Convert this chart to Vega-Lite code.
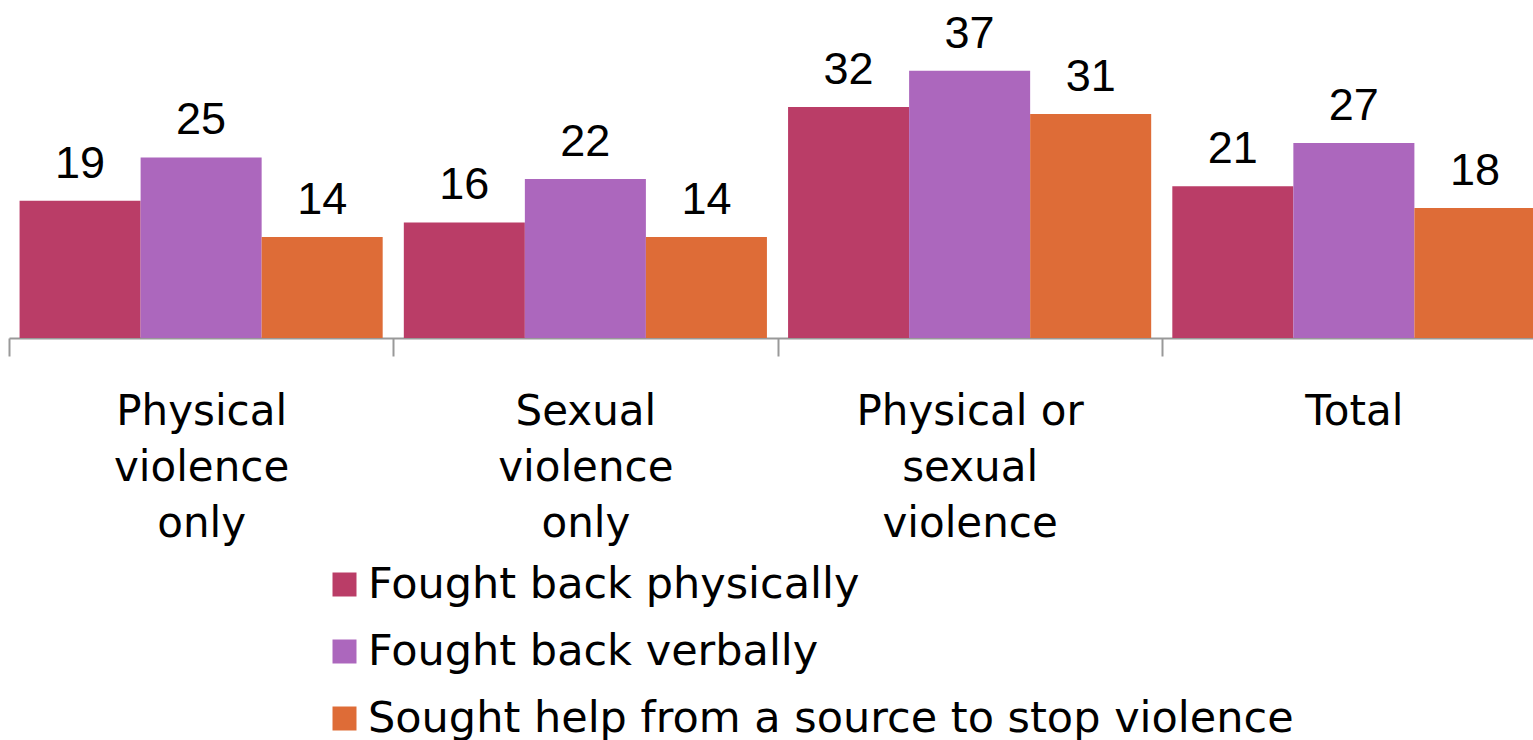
{
  "$schema": "https://vega.github.io/schema/vega-lite/v6.json",
  "autosize": "none",
  "width": 1524,
  "height": 338,
  "padding": {"left": 9, "top": 0, "right": 0, "bottom": 402},
  "background": "white",
  "config": {"view": {"stroke": null}},
  "data": {"values": [
    {"category": "Physical violence only", "response": "Fought back physically", "value": 19},
    {"category": "Physical violence only", "response": "Fought back verbally", "value": 25},
    {"category": "Physical violence only", "response": "Sought help from a source to stop violence", "value": 14},
    {"category": "Sexual violence only", "response": "Fought back physically", "value": 16},
    {"category": "Sexual violence only", "response": "Fought back verbally", "value": 22},
    {"category": "Sexual violence only", "response": "Sought help from a source to stop violence", "value": 14},
    {"category": "Physical or sexual violence", "response": "Fought back physically", "value": 32},
    {"category": "Physical or sexual violence", "response": "Fought back verbally", "value": 37},
    {"category": "Physical or sexual violence", "response": "Sought help from a source to stop violence", "value": 31},
    {"category": "Total", "response": "Fought back physically", "value": 21},
    {"category": "Total", "response": "Fought back verbally", "value": 27},
    {"category": "Total", "response": "Sought help from a source to stop violence", "value": 18}
  ]},
  "encoding": {
    "x": {
      "field": "category", "type": "nominal",
      "sort": ["Physical violence only", "Sexual violence only", "Physical or sexual violence", "Total"],
      "scale": {"range": [0, 1537], "paddingInner": 0.055, "paddingOuter": 0.0275},
      "axis": {
        "title": null,
        "domainColor": "#999999", "domainWidth": 2,
        "tickColor": "#999999", "tickWidth": 2, "tickSize": 18, "tickOffset": -192.1,
        "labelAngle": 0, "labelOffset": 192.1,
        "labelFont": "DejaVu Sans", "labelFontSize": 42, "labelColor": "#000000", "labelLimit": 500,
        "labelLineHeight": 56, "labelPadding": 68, "labelBaseline": "alphabetic",
        "labelExpr": "datum.value == 'Physical violence only' ? ['Physical', 'violence', 'only'] : datum.value == 'Sexual violence only' ? ['Sexual', 'violence', 'only'] : datum.value == 'Physical or sexual violence' ? ['Physical or', 'sexual', 'violence'] : datum.value"
      }
    },
    "xOffset": {
      "field": "response", "type": "nominal",
      "sort": ["Fought back physically", "Fought back verbally", "Sought help from a source to stop violence"]
    },
    "y": {
      "field": "value", "type": "quantitative",
      "scale": {"domain": [0, 46.8], "nice": false, "zero": true},
      "axis": null
    }
  },
  "layer": [
    {
      "mark": {"type": "bar"},
      "encoding": {
        "color": {
          "field": "response", "type": "nominal",
          "sort": ["Fought back physically", "Fought back verbally", "Sought help from a source to stop violence"],
          "scale": {"range": ["#BA3D67", "#AC67BD", "#DE6C37"]},
          "legend": {
            "title": null,
            "orient": "none",
            "legendX": 314,
            "legendY": 563,
            "symbolType": "square",
            "symbolSize": 576,
            "symbolStrokeWidth": 0,
            "labelFont": "DejaVu Sans",
            "labelFontSize": 43,
            "labelColor": "#000000",
            "labelLimit": 1200,
            "labelOffset": 2,
            "rowPadding": 23
          }
        }
      }
    },
    {
      "mark": {"type": "text", "font": "Liberation Sans", "fontSize": 45, "baseline": "alphabetic", "dy": -23, "color": "#000000"},
      "encoding": {"text": {"field": "value", "type": "quantitative"}}
    }
  ]
}
